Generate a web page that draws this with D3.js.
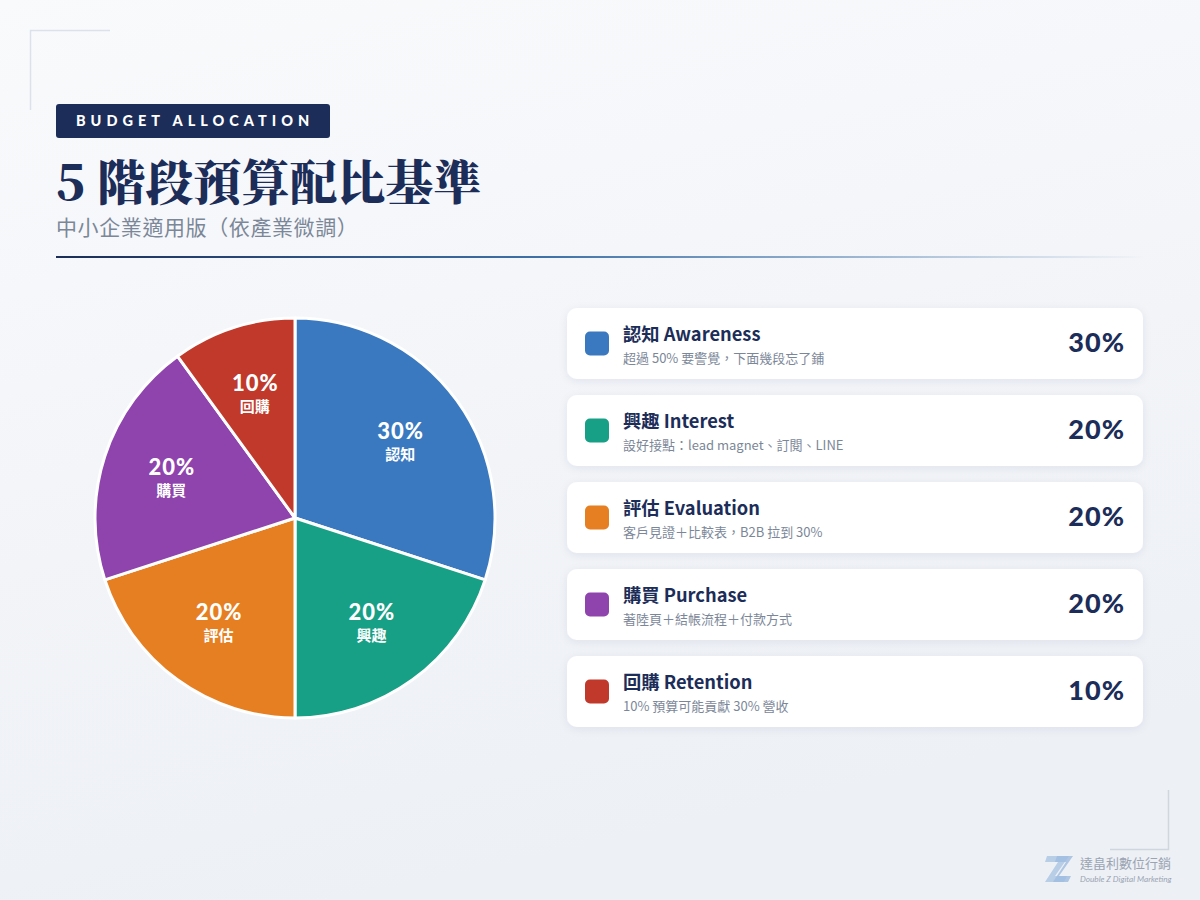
<!DOCTYPE html>
<html><head><meta charset="utf-8">
<script src="https://cdn.jsdelivr.net/npm/d3@7/dist/d3.min.js"></script>
<style>
html,body{margin:0;padding:0;background:#f4f6f9;}
svg{display:block;}
</style></head>
<body>
<svg id="chart" width="1200" height="900"></svg>
<script>
const stages = ["認知", "興趣", "評估", "購買", "回購"];
const stagesEn = ["Awareness", "Interest", "Evaluation", "Purchase", "Retention"];
const shares = [30, 20, 20, 20, 10];
const notes = [
  "超過 50% 要警覺，下面幾段忘了鋪",
  "設好接點：lead magnet、訂閱、LINE",
  "客戶見證＋比較表，B2B 拉到 30%",
  "著陸頁＋結帳流程＋付款方式",
  "10% 預算可能貢獻 30% 營收"
];
const colors = ["#3a79bf", "#17a085", "#e67f22", "#8e43ad", "#c0392b"];

const navy = "#1b2d58";
const cjk = "'Noto Sans CJK TC','Noto Sans',sans-serif";
const geo = "Lato,'Noto Sans',sans-serif";

const svg = d3.select("#chart");
const defs = svg.append("defs");

const bg = defs.append("linearGradient").attr("id","bg").attr("x1","0").attr("y1","0").attr("x2","0.3").attr("y2","1");
bg.append("stop").attr("offset","0").attr("stop-color","#f9fafc");
bg.append("stop").attr("offset","1").attr("stop-color","#edf0f5");
svg.append("rect").attr("width",1200).attr("height",900).attr("fill","url(#bg)");

const lg = defs.append("linearGradient").attr("id","rule").attr("x1","0").attr("x2","1");
lg.append("stop").attr("offset","0").attr("stop-color",navy);
lg.append("stop").attr("offset","0.45").attr("stop-color","#3f72a8");
lg.append("stop").attr("offset","1").attr("stop-color","#3f72a8").attr("stop-opacity","0");

const sh = defs.append("filter").attr("id","shadow").attr("x","-10%").attr("y","-30%").attr("width","120%").attr("height","170%");
sh.append("feDropShadow").attr("dx",0).attr("dy",2).attr("stdDeviation",4).attr("flood-color","#1b2d58").attr("flood-opacity",0.07);

// corner decorations
svg.append("path").attr("d","M110,30.5 H30.5 V110").attr("fill","none").attr("stroke","#dbe2ec").attr("stroke-width",1.5);
svg.append("path").attr("d","M1168.5,790 V849.5 H1110").attr("fill","none").attr("stroke","#cfd6e0").attr("stroke-width",1.5);

// header
svg.append("rect").attr("x",56).attr("y",104).attr("width",274).attr("height",34).attr("rx",3).attr("fill",navy);
svg.append("text").attr("x",76).attr("y",126).attr("fill","#fff")
  .attr("font-family",geo).attr("font-weight",900).attr("font-size",14.5).attr("letter-spacing",5)
  .text("BUDGET ALLOCATION");
svg.append("text").attr("x",56).attr("y",200).attr("fill",navy)
  .attr("font-family","'Noto Serif CJK TC','Noto Sans CJK TC',serif").attr("font-weight",900).attr("font-size",48)
  .text("5 階段預算配比基準");
svg.append("text").attr("x",56).attr("y",235).attr("fill","#7b8798")
  .attr("font-family",cjk).attr("font-size",21).attr("letter-spacing",0.6).text("中小企業適用版（依產業微調）");
svg.append("rect").attr("x",56).attr("y",256).attr("width",1090).attr("height",2).attr("fill","url(#rule)");

// pie
const cx = 295, cy = 518, R = 200;
const pie = d3.pie().sort(null).value(d => d)(shares);
const arc = d3.arc().innerRadius(0).outerRadius(R);
const labelArc = d3.arc().innerRadius(R*0.65).outerRadius(R*0.65);
const g = svg.append("g").attr("transform",`translate(${cx},${cy})`);
g.selectAll("path.slice").data(pie).join("path").attr("class","slice")
  .attr("d",arc).attr("fill",(d,i)=>colors[i]).attr("stroke","#fff").attr("stroke-width",3).attr("stroke-linejoin","round");
const lab = g.selectAll("g.lab").data(pie).join("g").attr("class","lab")
  .attr("transform",d=>{const c=labelArc.centroid(d);return `translate(${c[0]},${c[1]})`;});
lab.append("text").attr("text-anchor","middle").attr("x",0.5).attr("y",-3).attr("fill","#fff")
  .attr("font-family",geo).attr("font-weight",900).attr("font-size",22).attr("letter-spacing",1).text((d,i)=>shares[i]+"%");
lab.append("text").attr("text-anchor","middle").attr("y",18).attr("fill","#fff")
  .attr("font-family",cjk).attr("font-weight",700).attr("font-size",15).text((d,i)=>stages[i]);

// legend cards
const y0 = 308, step = 87, cardW = 576, cardH = 71, x0 = 567;
const cards = svg.selectAll("g.card").data(stages).join("g").attr("class","card")
  .attr("transform",(d,i)=>`translate(${x0},${y0+i*step})`);
cards.append("rect").attr("width",cardW).attr("height",cardH).attr("rx",10).attr("fill","#fff").attr("filter","url(#shadow)");
cards.append("rect").attr("x",18).attr("y",cardH/2-12).attr("width",24).attr("height",24).attr("rx",5).attr("fill",(d,i)=>colors[i]);
cards.append("text").attr("x",56).attr("y",33).attr("fill",navy).attr("font-family",cjk).attr("font-weight",700).attr("font-size",18.3)
  .text((d,i)=>d+" "+stagesEn[i]);
cards.append("text").attr("x",56).attr("y",55).attr("fill","#7b8798").attr("font-family",cjk).attr("font-size",13)
  .text((d,i)=>notes[i]);
cards.append("text").attr("x",cardW-18).attr("y",44).attr("text-anchor","end").attr("fill",navy)
  .attr("font-family",geo).attr("font-weight",900).attr("font-size",27).attr("letter-spacing",1).text((d,i)=>shares[i]+"%");

// logo
const logo = svg.append("g").attr("transform","translate(1045,856)");
logo.append("path").attr("d","M2,0 H24 L10,20 H22 L19,26 H0 L13,6 H0 Z").attr("fill","#b8cde6");
logo.append("path").attr("d","M12,0 H28 L14,20 H26 L23,26 H8 L21,6 H10 Z").attr("fill","#9dbbe0").attr("opacity",0.8);
svg.append("text").attr("x",1080).attr("y",868).attr("fill","#9aa4b3").attr("font-family",cjk).attr("font-size",13).text("達畠利數位行銷");
svg.append("text").attr("x",1080).attr("y",882).attr("fill","#9aa4b3").attr("font-family",geo).attr("font-style","italic").attr("font-size",8.2).text("Double Z Digital Marketing");
</script>
</body></html>
